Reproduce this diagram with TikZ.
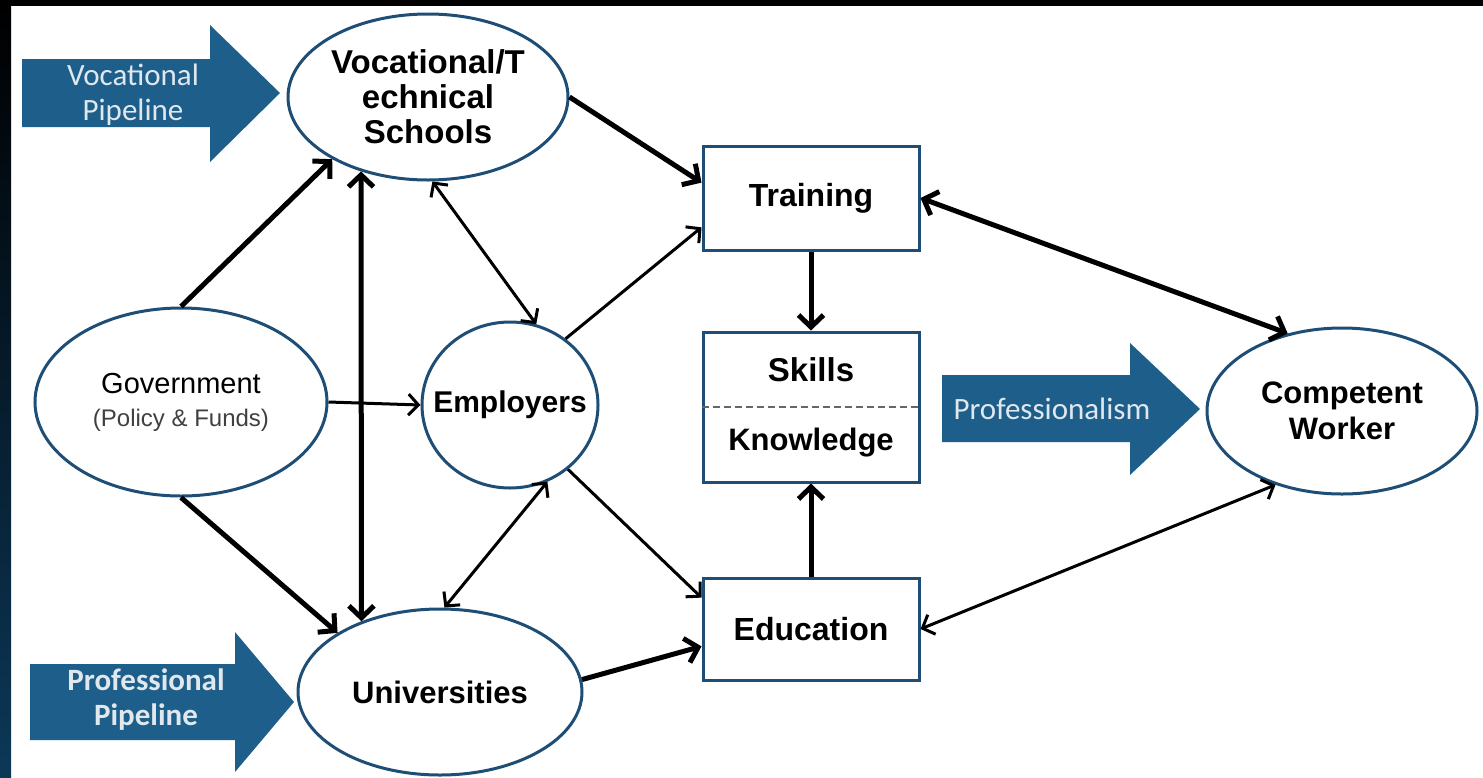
\documentclass[tikz,border=0pt]{standalone}
\usepackage{fontspec}
\setmainfont{Liberation Sans}
\newfontfamily\pipefont{Carlito}
\usetikzlibrary{arrows.meta,shapes.geometric}

\definecolor{pipeblue}{RGB}{29,94,138}
\definecolor{rimblue}{RGB}{30,78,118}
\definecolor{pipetext}{RGB}{224,232,238}
\definecolor{framedark}{RGB}{12,56,88}

\begin{document}
\begin{tikzpicture}[x=1pt,y=-1pt,
	oval/.style={ellipse, draw=rimblue, line width=3pt, fill=white, inner sep=0pt, align=center, font=\bfseries\fontsize{31}{36}\selectfont},
	box/.style={rectangle, draw=rimblue, line width=3pt, fill=white, inner sep=0pt, minimum width=216pt, font=\bfseries\fontsize{32}{36}\selectfont},
	lbl/.style={inner sep=0pt, font=\bfseries\fontsize{31}{36}\selectfont},
	pipelbl/.style={inner sep=0pt, align=center, text=pipetext, font=\pipefont\fontsize{31}{35}\selectfont},
	heavy/.style={line width=5pt, >={Straight Barb[length=12pt,width=25pt]}},
	light/.style={line width=3pt, >={Straight Barb[length=10pt,width=21pt]}}]

	\useasboundingbox (0,0) rectangle (1483,777);
	\fill[black] (0,0) rectangle (1483,777);
	\fill[white] (11,6) rectangle (1483,777);
	\shade[top color=black, bottom color=framedark] (0,6) rectangle (11,777);

	\fill[pipeblue] (22,59) -- (210,59) -- (210,25) -- (280,93) -- (210,162) -- (210,127) -- (22,127) -- cycle;
	\fill[pipeblue] (30,664) -- (235,664) -- (235,632) -- (294,702) -- (235,772) -- (235,740) -- (30,740) -- cycle;
	\fill[pipeblue] (942,375) -- (1130,375) -- (1130,343) -- (1200,409) -- (1130,475) -- (1130,442) -- (942,442) -- cycle;

	\node 	(vocpipe)	at	(133,95) 	[pipelbl]{Vocational\\Pipeline};
	\node 	(propipe)	at	(146,700) 	[pipelbl, font=\pipefont\bfseries\fontsize{31}{35}\selectfont]{Professional\\Pipeline};
	\node 	(profism)	at	(1052,409) 	[pipelbl]{Professionalism};


	\node 	(voc)		at	(428,97) 	[oval, minimum width=280pt, minimum height=166pt, font=\bfseries\fontsize{33}{35}\selectfont]{Vocational/T\\echnical\\Schools};
	\node 	(gov)		at	(181,402) 	[oval, minimum width=292pt, minimum height=188pt, font=\fontsize{29}{33}\selectfont]{Government\\{\fontsize{24}{28}\selectfont\color{black!75}(Policy \& Funds)}};
	\node 	(emp)		at	(510,405) 	[oval, minimum width=176pt, minimum height=166pt, inner xsep=-30pt, font=\bfseries\fontsize{30}{34}\selectfont]{Employers};
	\node 	(uni)		at	(440,692) 	[oval, minimum width=284pt, minimum height=166pt]{Universities};
	\node 	(cw)		at	(1342,411) 	[oval, minimum width=270pt, minimum height=166pt]{Competent\\Worker};

	\node 	(train)		at	(811,198) 	[box, minimum height=104pt]{Training};
	\node 	(sk)		at	(811,407) 	[box, minimum height=150pt]{};
	\node 	(skl)		at	(811,370) 	[lbl, font=\bfseries\fontsize{33}{36}\selectfont]{Skills};
	\node 	(knw)		at	(811,443) 	[lbl]{Knowledge};
	\node 	(edu)		at	(811,629) 	[box, minimum height=102pt]{Education};
	\draw[black!60, line width=1.5pt, dash pattern=on 7pt off 4pt] (sk.west) -- (sk.east);

%

	\draw[heavy,->] 	(voc.east) 	to 	(train.172);
	\draw[heavy,->] 	(gov.north) 	to 	(voc.213);
	\draw[heavy,<->] 	(voc.228) 	to 	(uni.138);
	\draw[light,<->] 	(voc.273) 	to 	(emp.72);
	\draw[light,->] 	(emp.50) 	to 	(train.195);
	\draw[light,->] 	(gov.east) 	to 	(emp.west);
	\draw[heavy,->] 	(gov.south) 	to 	(uni.150);
	\draw[light,<->] 	(emp.-64) 	to 	(uni.87);
	\draw[light,->] 	(emp.-48) 	to 	(edu.164);
	\draw[heavy,->] 	(uni.5) 	to 	(edu.189);

	\draw[heavy,->] 	(train.south) 	to 	(sk.north);
	\draw[heavy,->] 	(edu.north) 	to 	(sk.south);
	\draw[heavy,<->] 	(train.east) 	to 	(cw.125);
	\draw[light,<->] 	(edu.east) 	to 	(cw.228);

\end{tikzpicture}
\end{document}
